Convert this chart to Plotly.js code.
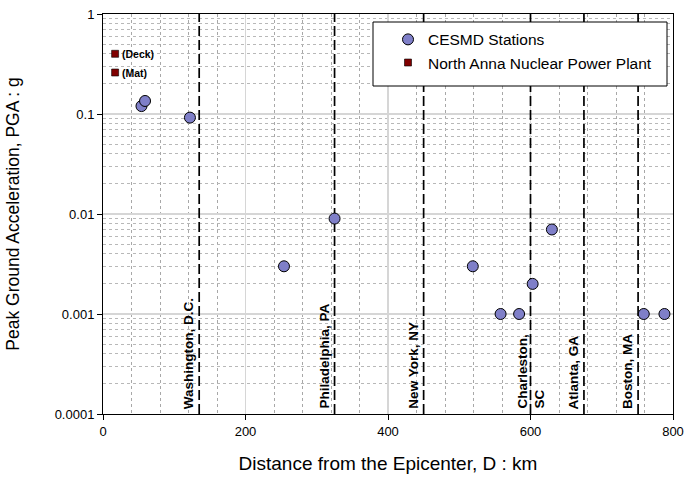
<!DOCTYPE html>
<html>
<head>
<meta charset="utf-8">
<script src="https://cdn.plot.ly/plotly-3.0.1.min.js"></script>
<style>html,body{margin:0;padding:0;background:#fff;}#chart{width:686px;height:485px;}</style>
</head>
<body>
<div id="chart"></div>
<script>
// CESMD station data
const stationDist = [54, 59, 122, 254, 325, 519, 558, 584, 603, 630, 759, 788];
const stationPGA  = [0.12, 0.135, 0.092, 0.003, 0.009, 0.003, 0.001, 0.001, 0.002, 0.007, 0.001, 0.001];
// North Anna Nuclear Power Plant
const plantDist = [17, 17];
const plantPGA  = [0.40, 0.26];
const plantLabels = ['(Deck)', '(Mat)'];
// City distances
const cityNames = ['Washington, D.C.', 'Philadelphia, PA', 'New York, NY', 'Charleston,<br>SC', 'Atlanta, GA', 'Boston, MA'];
const cityDist  = [135, 325, 450, 600, 675, 751];

const FONT = 'Arial, "Liberation Sans", sans-serif';
const traces = [];
cityDist.forEach((d, i) => {
  traces.push({
    x: [d, d], y: [0.0001, 1], mode: 'lines', type: 'scatter',
    line: {color: '#000', width: 1.7, dash: '10px,4px'},
    showlegend: false, hoverinfo: 'skip'
  });
});
traces.push({
  x: stationDist, y: stationPGA, mode: 'markers', type: 'scatter',
  name: 'CESMD Stations',
  marker: {symbol: 'circle', size: 11, color: '#7f7fc8', line: {color: '#000', width: 1}}
});
traces.push({
  x: plantDist, y: plantPGA, mode: 'markers', type: 'scatter',
  name: 'North Anna Nuclear Power Plant',
  marker: {symbol: 'square', size: 7, color: '#800000', line: {color: '#000', width: 0.6}}
});

const annotations = [];
cityNames.forEach((n, i) => {
  const two = n.indexOf('<br>') >= 0;
  annotations.push({
    x: cityDist[i], y: Math.log10(0.0001), xref: 'x', yref: 'y',
    text: '<b>' + n + '</b>', textangle: -90, showarrow: false,
    xanchor: two ? 'center' : 'right', yanchor: 'bottom', align: 'left',
    xshift: two ? 0 : -1, yshift: 3,
    font: {family: FONT, size: 13.5, color: '#000'}
  });
});
plantLabels.forEach((t, i) => {
  annotations.push({
    x: plantDist[i], y: Math.log10(plantPGA[i]), xref: 'x', yref: 'y',
    text: '<b>' + t + '</b>', showarrow: false, xanchor: 'left', yanchor: 'middle',
    xshift: 5, font: {family: FONT, size: 10.5, color: '#000'}
  });
});

const layout = {
  width: 686, height: 485,
  margin: {l: 103, r: 13, t: 14, b: 71},
  paper_bgcolor: '#fff', plot_bgcolor: '#fff',
  font: {family: FONT, color: '#000'},
  showlegend: true,
  legend: {
    x: 0.5, y: 0.978, xanchor: 'left', yanchor: 'top',
    bgcolor: 'rgba(0,0,0,0)', borderwidth: 0,
    font: {family: FONT, size: 15.5, color: '#000'},
    itemwidth: 30, tracegroupgap: 0
  },
  shapes: [{
    type: 'rect', xref: 'paper', yref: 'paper', x0: 0.4737, x1: 0.9895, y0: 0.82, y1: 0.98,
    line: {color: '#000', width: 1}, fillcolor: '#fff', layer: 'above'
  }],
  xaxis: {
    range: [0, 800], tickmode: 'linear', tick0: 0, dtick: 200,
    showline: true, linecolor: '#000', linewidth: 1, mirror: true,
    ticks: 'outside', ticklen: 5, tickcolor: '#000',
    showgrid: true, gridcolor: '#d6d6d6', gridwidth: 1.5, zeroline: false,
    minor: {tickmode: 'linear', tick0: 0, dtick: 40, ticks: '', showgrid: true, gridcolor: '#a8a8a8', griddash: 'dot', gridwidth: 1},
    tickfont: {family: FONT, size: 13, color: '#000'},
    title: {text: 'Distance from the Epicenter, D : km', font: {family: FONT, size: 19, color: '#000'}, standoff: 19}
  },
  yaxis: {
    type: 'log', range: [-4, 0], tickmode: 'linear', tick0: 0, dtick: 1,
    exponentformat: 'none',
    showline: true, linecolor: '#000', linewidth: 1, mirror: true,
    ticks: 'outside', ticklen: 5, tickcolor: '#000',
    showgrid: true, gridcolor: '#d6d6d6', gridwidth: 1.5, zeroline: false,
    minor: {dtick: 'D1', ticks: '', showgrid: true, gridcolor: '#b8b8b8', griddash: 'dot', gridwidth: 1},
    tickfont: {family: FONT, size: 13, color: '#000'},
    title: {text: 'Peak Ground Acceleration, PGA : g', font: {family: FONT, size: 17.5, color: '#000'}, standoff: 30}
  },
  annotations: annotations
};
Plotly.newPlot('chart', traces, layout, {displayModeBar: false, staticPlot: true});
</script>
</body>
</html>
